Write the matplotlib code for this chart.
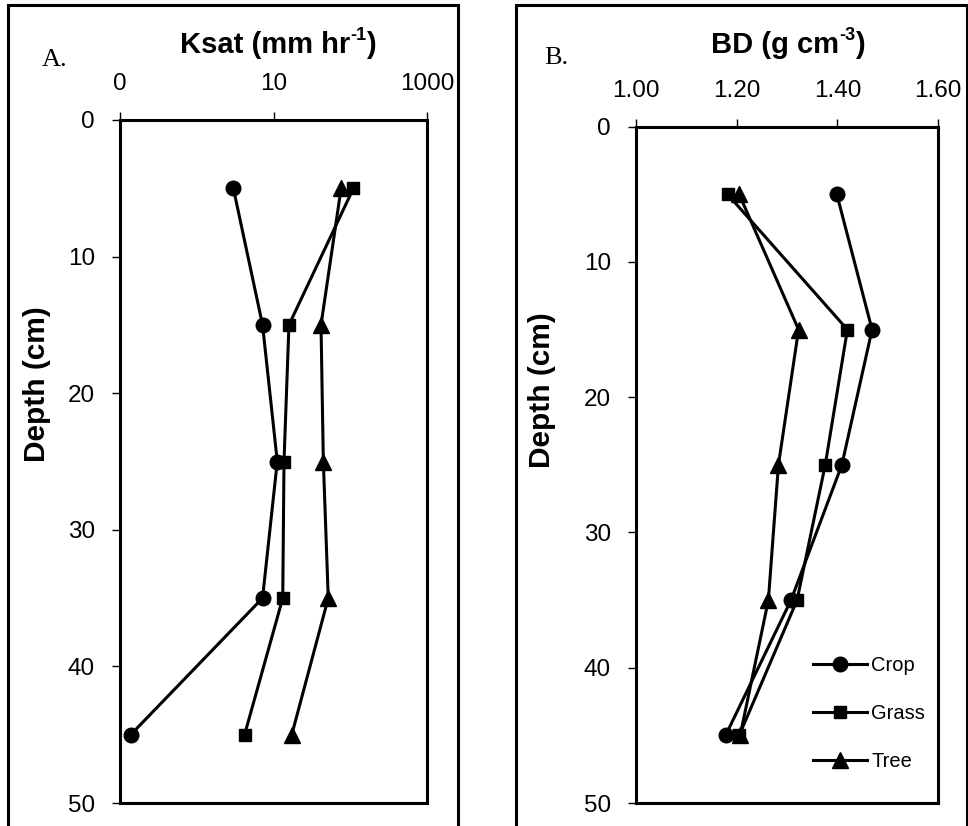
import matplotlib
matplotlib.use("Agg")
import matplotlib.pyplot as plt
from matplotlib.patches import Rectangle
from matplotlib.lines import Line2D

plt.rcParams['font.family'] = ['Liberation Sans', 'DejaVu Sans']

depth = [5, 15, 25, 35, 45]
series = ["Crop", "Grass", "Tree"]
markers = {"Crop": "o", "Grass": "s", "Tree": "^"}
msizes = {"Crop": 10.5, "Grass": 8.5, "Tree": 11}

ksat = {
    "Crop": [3.0, 7.2, 11.2, 7.2, 0.138],
    "Grass": [110, 15.9, 13.7, 13.2, 4.2],
    "Tree": [76, 41.6, 44.6, 51.7, 17.3],
}
bd = {
    "Crop": [1.399, 1.469, 1.409, 1.308, 1.178],
    "Grass": [1.182, 1.420, 1.376, 1.320, 1.205],
    "Tree": [1.205, 1.323, 1.283, 1.263, 1.207],
}
ksat_ticks = [0.1, 10, 1000]
ksat_ticklabels = ["0", "10", "1000"]
bd_ticks = [1.0, 1.2, 1.4, 1.6]
bd_ticklabels = ["1.00", "1.20", "1.40", "1.60"]
depth_ticks = [0, 10, 20, 30, 40, 50]

W, H = 968, 826
fig = plt.figure(figsize=(W / 100, H / 100), dpi=100)

def fx(px):
    return px / W

def fy(py):
    return 1 - py / H

axA = fig.add_axes([fx(120), fy(803), fx(427) - fx(120), fy(120) - fy(803)])
axB = fig.add_axes([fx(636), fy(803), fx(938) - fx(636), fy(126.7) - fy(803)])

for ax in (axA, axB):
    for s in ax.spines.values():
        s.set_linewidth(2.2)
    ax.set_ylim(50, 0)
    ax.set_yticks(depth_ticks)
    ax.xaxis.tick_top()
    ax.tick_params(axis='both', direction='out', length=6, width=1.0,
                   labelsize=17.5)
    ax.tick_params(axis='y', pad=12)
    ax.tick_params(axis='x', pad=12)

axA.set_xscale('log')
axA.set_xlim(0.1, 1000)
axA.set_xticks(ksat_ticks)
axA.set_xticklabels(ksat_ticklabels)
axA.minorticks_off()

axB.set_xlim(1.0, 1.6)
axB.set_xticks(bd_ticks)
axB.set_xticklabels(bd_ticklabels)

for name in series:
    axA.plot(ksat[name], depth, color='black', lw=2.2, marker=markers[name],
             ms=msizes[name], clip_on=False)
    axB.plot(bd[name], depth, color='black', lw=2.2, marker=markers[name],
             ms=msizes[name], clip_on=False, label=name)

handles = [Line2D([0], [0], color='black', lw=2.2, marker=markers[n],
                  ms=msizes[n]) for n in series]
axB.legend(handles, series, loc='lower right', bbox_to_anchor=(0.984, 0.035),
           frameon=False, fontsize=14.5, handlelength=2.7, handletextpad=0.2,
           labelspacing=1.45, borderaxespad=0)

# outer panel frames
fig.patches.append(Rectangle((fx(8), -0.05), fx(458) - fx(8), fy(5) + 0.05,
                             transform=fig.transFigure, fill=False,
                             lw=2.2, ec='black'))
fig.patches.append(Rectangle((fx(516), -0.05), fx(966.5) - fx(516), fy(5) + 0.05,
                             transform=fig.transFigure, fill=False,
                             lw=2.2, ec='black'))

# titles with small hyphen superscripts, composed piecewise
def sup_title(cx, cy, main, sup, size=21):
    renderer = fig.canvas.get_renderer()
    t1 = fig.text(0, fy(cy), main, ha='left', va='center', fontsize=size,
                  fontweight='bold')
    t2 = fig.text(0, fy(cy - 9), sup, ha='left', va='center',
                  fontsize=size * 0.62, fontweight='bold')
    t3 = fig.text(0, fy(cy), ")", ha='left', va='center', fontsize=size,
                  fontweight='bold')
    w1 = t1.get_window_extent(renderer).width
    w2 = t2.get_window_extent(renderer).width
    w3 = t3.get_window_extent(renderer).width
    x0 = cx - (w1 + w2 + w3) / 2
    t1.set_x(fx(x0))
    t2.set_x(fx(x0 + w1))
    t3.set_x(fx(x0 + w1 + w2))

sup_title(278, 45, "Ksat (mm hr", "-1")
sup_title(788, 45, "BD (g cm", "-3")

fig.text(fx(55), fy(60), "A.", ha='center', va='center', fontsize=19,
         family='Liberation Serif')
fig.text(fx(556), fy(58), "B.", ha='center', va='center', fontsize=19,
         family='Liberation Serif')
fig.text(fx(37), fy(384), "Depth (cm)", ha='center', va='center', rotation=90,
         fontsize=21.5, fontweight='bold')
fig.text(fx(542), fy(390), "Depth (cm)", ha='center', va='center', rotation=90,
         fontsize=21.5, fontweight='bold')

fig.savefig("out.png", dpi=100)
